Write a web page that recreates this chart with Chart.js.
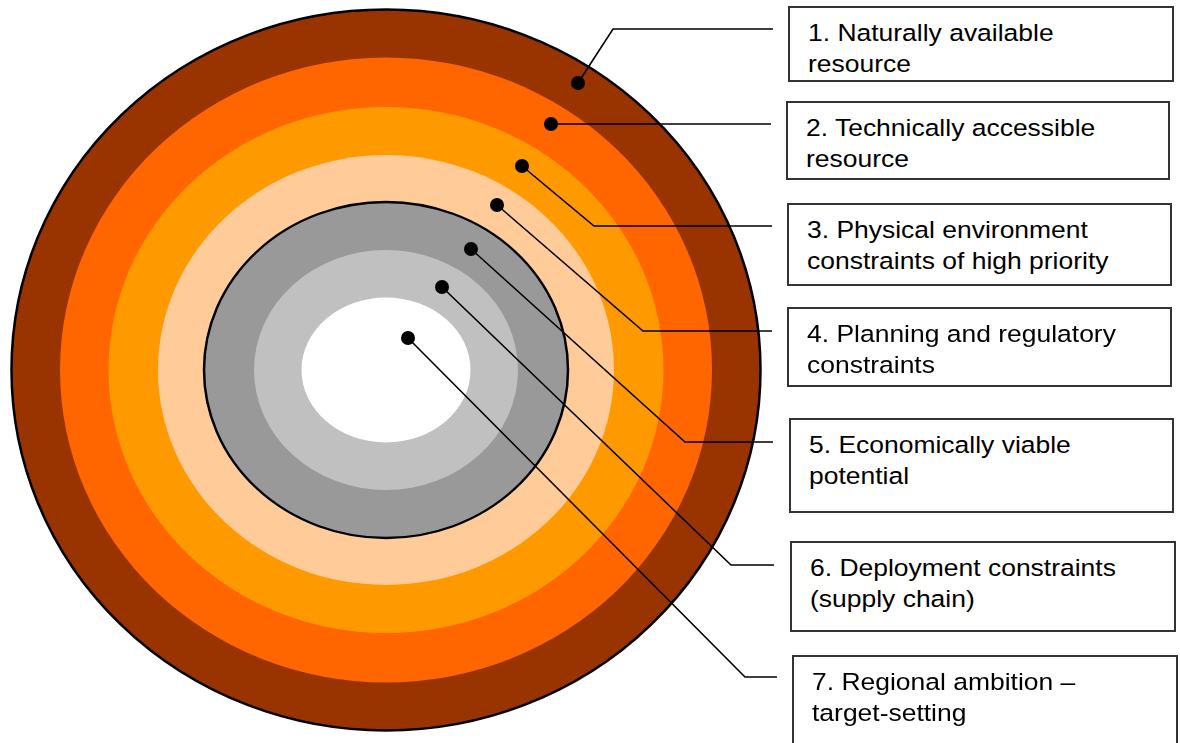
<!DOCTYPE html>
<html>
<head>
<meta charset="utf-8">
<script src="https://cdn.jsdelivr.net/npm/chart.js@4.4.1/dist/chart.umd.min.js"></script>
<style>
  html, body { margin: 0; padding: 0; background: #fff; }
  #wrap { position: relative; width: 1180px; height: 743px; overflow: hidden; }
  #chart { position: absolute; left: 0; top: 0; }
  .box {
    position: absolute; box-sizing: border-box;
    border: 2px solid #333; background: #fff;
    padding: 9px 0 0 18px;
    font-family: 'Liberation Sans', Arial, sans-serif;
    font-size: 24.5px; line-height: 31px; color: #000;
    white-space: nowrap;
  }
  .box span { display: inline-block; transform: scaleX(1.08); transform-origin: 0 0; }
</style>
</head>
<body>
<div id="wrap">
  <canvas id="chart" width="1180" height="743"></canvas>
</div>
<script>
// layers, outermost first
const layerLabels = [
  ['1. Naturally available', 'resource'],
  ['2. Technically accessible', 'resource'],
  ['3. Physical environment', 'constraints of high priority'],
  ['4. Planning and regulatory', 'constraints'],
  ['5. Economically viable', 'potential'],
  ['6. Deployment constraints', '(supply chain)'],
  ['7. Regional ambition \u2013', 'target-setting']
];
const ringColors = ['#993300', '#FF6600', '#FF9900', '#FFCC99', '#999999', '#C0C0C0', '#FFFFFF'];
const ringOutlined = [true, false, false, false, true, false, false];
// half widths / half heights of each layer (diagram units, centre = 0,0)
const ringRadiusX = [374.5, 326, 277.5, 228, 182, 132, 84.5];
const ringRadiusY = [360.5, 312.5, 263, 215, 168, 120, 72.5];

// marker dot on each layer, and where its leader line bends / ends
const dotX = [192, 165, 136, 111, 85, 56, 22];
const dotY = [287, 246, 204, 165, 121, 83, 32];
const elbowX = [227, 165, 208, 257, 299, 345, 359];
const elbowY = [341, 246, 144, 39, -72, -195, -307];
const leaderEndX = [387, 385, 386, 386, 387, 388, 391];

// label boxes: left, top, right, bottom (page px)
const boxLayout = [
  [788, 6, 1174, 82],
  [786, 101, 1170, 180],
  [787, 203, 1172, 286],
  [787, 307, 1172, 387],
  [789, 418, 1174, 513],
  [790, 541, 1176, 632],
  [792, 655, 1178, 752]
];

const wrap = document.getElementById('wrap');
layerLabels.forEach((lines, i) => {
  const [l, t, r, b] = boxLayout[i];
  const div = document.createElement('div');
  div.className = 'box';
  div.style.left = l + 'px';
  div.style.top = t + 'px';
  div.style.width = (r - l) + 'px';
  div.style.height = (b - t) + 'px';
  div.innerHTML = lines.map(s => '<span>' + s + '</span>').join('<br>');
  wrap.appendChild(div);
});

// squash each circular bubble into the layer's ellipse
const ellipseRings = {
  id: 'ellipseRings',
  beforeDatasetDraw(chart, args) {
    const ds = chart.data.datasets[args.index];
    if (ds.ringIndex === undefined) return;
    const {ctx, scales: {x, y}} = chart;
    const cx = x.getPixelForValue(0), cy = y.getPixelForValue(0);
    const rx = x.getPixelForValue(ringRadiusX[ds.ringIndex]) - cx;
    const ry = cy - y.getPixelForValue(ringRadiusY[ds.ringIndex]);
    ctx.save();
    ctx.translate(cx, cy);
    ctx.scale(1, ry / rx);
    ctx.translate(-cx, -cy);
  },
  afterDatasetDraw(chart, args) {
    if (chart.data.datasets[args.index].ringIndex === undefined) return;
    chart.ctx.restore();
  }
};

const ringDatasets = ringColors.map((color, i) => ({
  type: 'bubble',
  label: layerLabels[i].join(' '),
  ringIndex: i,
  data: [{x: 0, y: 0, r: 1}],
  backgroundColor: color,
  borderColor: '#000',
  borderWidth: ringOutlined[i] ? 2.5 : 0,
  clip: false,
  order: 8 - i
}));

const leaderDatasets = dotX.map((_, i) => ({
  type: 'line',
  data: [
    {x: dotX[i], y: dotY[i]},
    {x: elbowX[i], y: elbowY[i]},
    {x: leaderEndX[i], y: elbowY[i]}
  ],
  borderColor: '#000',
  borderWidth: 1.6,
  pointRadius: 0,
  fill: false,
  tension: 0,
  order: 1
}));

const dotDataset = {
  type: 'scatter',
  data: dotX.map((x, i) => ({x: x, y: dotY[i]})),
  pointRadius: 7,
  pointBackgroundColor: '#000',
  backgroundColor: '#000',
  pointBorderWidth: 0,
  order: 0
};

const ctx = document.getElementById('chart').getContext('2d');
const chart = new Chart(ctx, {
  type: 'scatter',
  data: { datasets: [...ringDatasets, ...leaderDatasets, dotDataset] },
  options: {
    responsive: false,
    animation: false,
    events: [],
    layout: { padding: 0, autoPadding: false },
    plugins: {
      legend: { display: false },
      tooltip: { enabled: false }
    },
    scales: {
      x: { type: 'linear', display: false, min: -386, max: 794 },
      y: { type: 'linear', display: false, min: -373, max: 370 }
    }
  },
  plugins: [ellipseRings]
});

// bubble radius is in pixels: size each ring from the x scale
const xs = chart.scales.x;
ringDatasets.forEach((ds, i) => {
  ds.data = [{x: 0, y: 0, r: xs.getPixelForValue(ringRadiusX[i]) - xs.getPixelForValue(0)}];
});
chart.update();
</script>
</body>
</html>
